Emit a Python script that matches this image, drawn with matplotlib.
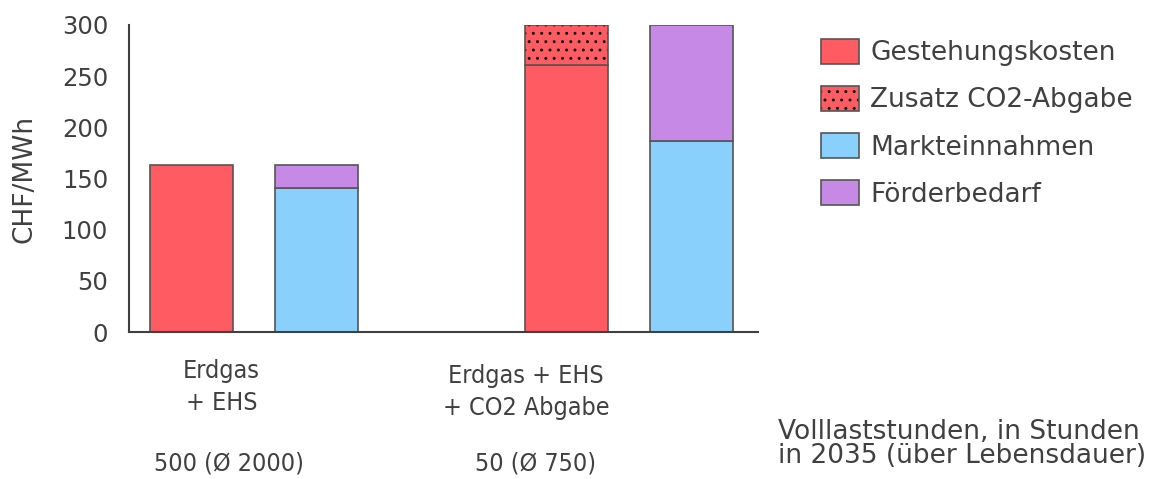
import matplotlib
matplotlib.use("Agg")
import matplotlib.pyplot as plt
from matplotlib.patches import Patch
from matplotlib.legend_handler import HandlerTuple
from matplotlib.transforms import blended_transform_factory

# ---- data ----
positions = [0, 1, 3, 4]
gestehung = [163, 0, 261, 0]
zusatz_co2 = [0, 0, 39, 0]
markt = [0, 141, 0, 187]
foerder = [0, 22, 0, 113]
series_labels = ["Gestehungskosten", "Zusatz CO2-Abgabe", "Markteinnahmen", "Förderbedarf"]
group_labels = [["Erdgas", "+ EHS"], ["Erdgas + EHS", "+ CO2 Abgabe"]]
group_label_x = [0.24, 2.676]
hours_labels = ["500 (Ø 2000)", "50 (Ø 750)"]
hours_label_x = [0.30, 2.75]
hours_title = "Volllaststunden, in Stunden\nin 2035 (über Lebensdauer)"
yticks = [0, 50, 100, 150, 200, 250, 300]

# ---- style ----
RED = "#FF5B63"
BLUE = "#8AD0FC"
PURPLE = "#C68AE6"
EDGE = "#555555"
TXT = "#404040"
FS_LEG = 19
FS_TICK = 17.5
FS_CAT = 18
plt.rcParams["font.family"] = ["DejaVu Sans"]
plt.rcParams["hatch.linewidth"] = 0.9
plt.rcParams["hatch.color"] = "black"

W_PX, H_PX = 1155, 479
fig = plt.figure(figsize=(W_PX / 100, H_PX / 100), dpi=100)
ax = fig.add_axes([129 / W_PX, 1 - 332 / H_PX, (754 - 129) / W_PX, (332 - 25) / H_PX])
W = 0.664
lw = 1.2

ax.bar(positions, gestehung, width=W, color=RED, edgecolor=EDGE, linewidth=lw, zorder=2)
# CO2 surcharge: hatch layer then edge layer
ax.bar(positions, zusatz_co2, bottom=gestehung, width=W, color=RED, edgecolor="black",
       linewidth=0, hatch="..", zorder=2)
ax.bar([p for p, v in zip(positions, zusatz_co2) if v > 0],
       [v for v in zusatz_co2 if v > 0],
       bottom=[b for b, v in zip(gestehung, zusatz_co2) if v > 0],
       width=W, fill=False, edgecolor=EDGE, linewidth=lw, zorder=3)
mp = [p for p, v in zip(positions, markt) if v > 0]
mv = [v for v in markt if v > 0]
fv = [v for v in foerder if v > 0]
ax.bar(mp, mv, width=W, color=BLUE, edgecolor=EDGE, linewidth=lw, zorder=2)
ax.bar(mp, fv, bottom=mv, width=W, color=PURPLE, edgecolor=EDGE, linewidth=lw, zorder=2)

ax.set_xlim(-0.5, 4.5)
ax.set_ylim(0, 300)
ax.set_yticks(yticks)
ax.set_xticks([])
ax.tick_params(axis="y", length=0, pad=15, labelsize=FS_TICK, labelcolor=TXT)
for s in ["top", "right"]:
    ax.spines[s].set_visible(False)
for s in ["left", "bottom"]:
    ax.spines[s].set_color(TXT)
    ax.spines[s].set_linewidth(1.5)
ax.spines["bottom"].set_bounds(-0.5, 4.53)
ax.set_ylabel("CHF/MWh", fontsize=FS_LEG, color=TXT)
ax.yaxis.set_label_coords(-0.147, 0.5)

tr = blended_transform_factory(ax.transData, fig.transFigure)
# category labels (baselines in px)
cat_baselines = [[378, 410], [383, 415]]
for x, lines, bls in zip(group_label_x, group_labels, cat_baselines):
    for line, bl in zip(lines, bls):
        ax.text(x, 1 - bl / H_PX, line, transform=tr, ha="center", va="baseline",
                fontsize=FS_CAT, color=TXT, fontstretch="condensed")
for x, lab in zip(hours_label_x, hours_labels):
    ax.text(x, 1 - 471 / H_PX, lab, transform=tr, ha="center", va="baseline",
            fontsize=FS_CAT, color=TXT, fontstretch="condensed")
fig.text(778 / W_PX, 1 - 444 / H_PX, hours_title, ha="left", va="center",
         fontsize=FS_LEG, color=TXT, linespacing=0.89)

# legend
handles = [
    Patch(facecolor=RED, edgecolor=EDGE, linewidth=lw),
    (Patch(facecolor=RED, edgecolor="black", linewidth=0, hatch=".."),
     Patch(fill=False, edgecolor=EDGE, linewidth=lw)),
    Patch(facecolor=BLUE, edgecolor=EDGE, linewidth=lw),
    Patch(facecolor=PURPLE, edgecolor=EDGE, linewidth=lw),
]
leg = fig.legend(handles, series_labels, loc="upper left",
                 bbox_to_anchor=(821 / W_PX, 1 - 39 / H_PX), frameon=False,
                 fontsize=FS_LEG, handlelength=1.44, handleheight=1.06, handletextpad=0.42,
                 labelspacing=0.75, borderpad=0, borderaxespad=0,
                 handler_map={tuple: HandlerTuple(ndivide=1)})
for t in leg.get_texts():
    t.set_color(TXT)

fig.savefig("out.png", dpi=100)
